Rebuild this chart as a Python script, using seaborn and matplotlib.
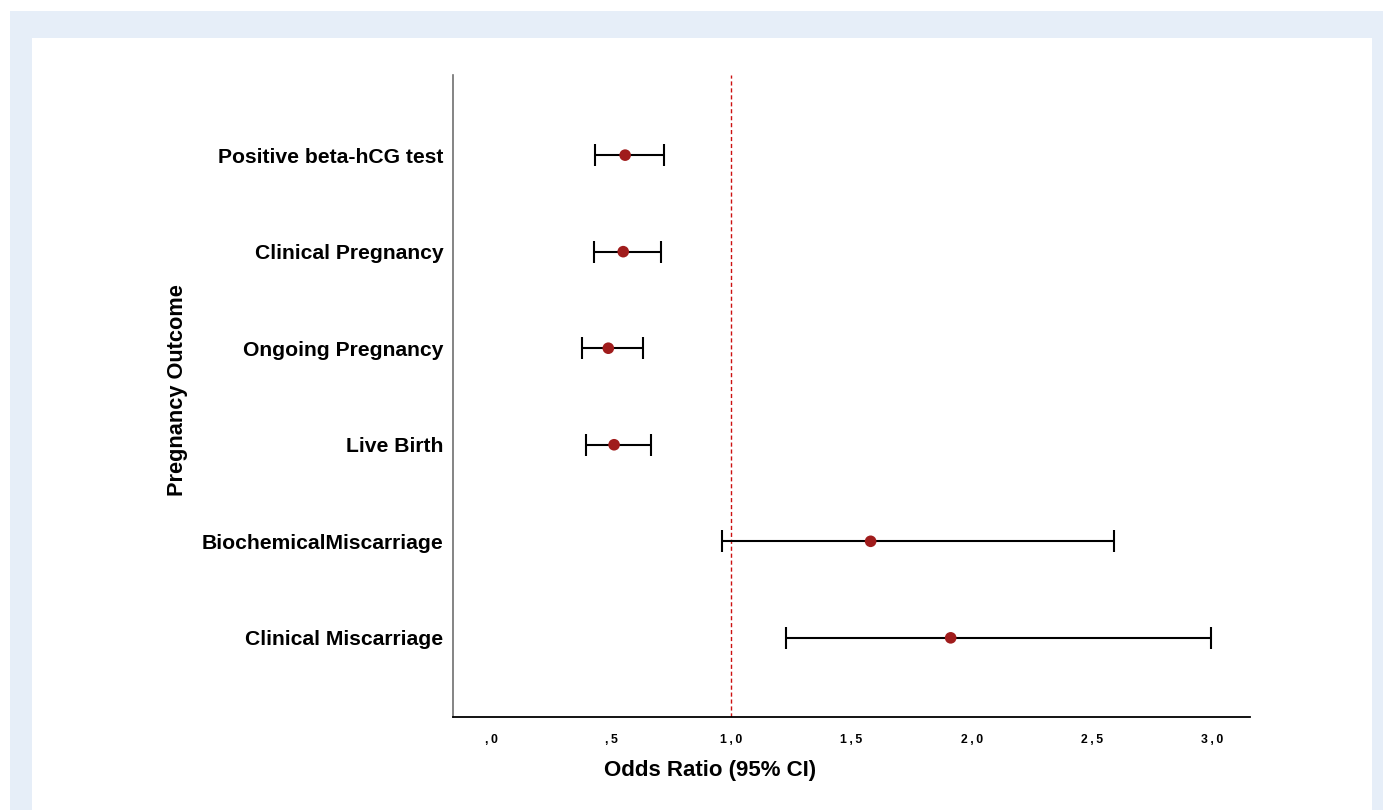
import matplotlib
matplotlib.use("Agg")
import matplotlib.pyplot as plt
import seaborn as sns
import pandas as pd
from matplotlib.patches import Rectangle

outcomes = ["Positive beta-hCG test", "Clinical Pregnancy", "Ongoing Pregnancy",
            "Live Birth", "BiochemicalMiscarriage", "Clinical Miscarriage"]
odds_ratio = [0.558, 0.550, 0.488, 0.512, 1.579, 1.912]
ci_lower = [0.433, 0.429, 0.379, 0.396, 0.962, 1.229]
ci_upper = [0.721, 0.708, 0.633, 0.667, 2.592, 2.996]
x_ticks = [0.0, 0.5, 1.0, 1.5, 2.0, 2.5, 3.0]
x_tick_labels = [",0", ",5", "1,0", "1,5", "2,0", "2,5", "3,0"]

df = pd.DataFrame({"Outcome": outcomes, "OR": odds_ratio, "lo": ci_lower, "hi": ci_upper})

sns.set_style("white")
plt.rcParams["font.family"] = ["Liberation Sans", "DejaVu Sans"]
plt.rcParams["text.color"] = "black"
plt.rcParams["axes.labelcolor"] = "black"
plt.rcParams["xtick.color"] = "black"
plt.rcParams["ytick.color"] = "black"

W, H = 1383, 810
fig = plt.figure(figsize=(W / 100, H / 100), dpi=100, facecolor="white")

# background frame
fig.patches.append(Rectangle((10 / W, 0), (W - 10) / W, (H - 11) / H,
                             transform=fig.transFigure, facecolor="#e6eef8",
                             edgecolor="none", zorder=-10))
fig.patches.append(Rectangle((32 / W, 0), (1372 - 32) / W, (H - 38) / H,
                             transform=fig.transFigure, facecolor="white",
                             edgecolor="none", zorder=-9))

ax = fig.add_axes([453 / W, 1 - 717 / H, (1250 - 453) / W, (717 - 75) / H])
ax.set_facecolor("none")

ax.errorbar(df["OR"], df["Outcome"],
            xerr=[df["OR"] - df["lo"], df["hi"] - df["OR"]],
            fmt="none", ecolor="black", elinewidth=1.5, capsize=8, capthick=1.5, zorder=2)
sns.scatterplot(data=df, x="OR", y="Outcome", ax=ax, color="#a01c1c", s=70,
                edgecolor="none", zorder=3)
ax.axvline(1.0, color="#cc1010", linestyle=(0, (3, 2)), linewidth=1.0, zorder=1)

ax.set_xlim(-0.158, 3.157)
ax.set_ylim(5.82, -0.83)
ax.set_xticks(x_ticks)
spaced = ["\u2009".join(list(t)) for t in x_tick_labels]
ax.set_xticklabels(spaced, fontsize=8.8, fontweight="bold")
for lab in ax.get_yticklabels():
    lab.set_fontsize(15.2)
    lab.set_fontweight("bold")
ax.tick_params(axis="both", length=0)
ax.tick_params(axis="x", pad=12)
ax.tick_params(axis="y", pad=7)

ax.set_xlabel("Odds Ratio (95% CI)", fontsize=16, fontweight="bold")
ax.xaxis.set_label_coords((710 - 453) / 797, (717 - 760) / 642)
ax.set_ylabel("Pregnancy Outcome", fontsize=15.7, fontweight="bold")
ax.yaxis.set_label_coords((188 - 453) / 797, (717 - 390) / 642)

for s in ["top", "right"]:
    ax.spines[s].set_visible(False)
ax.spines["left"].set_color("#707070")
ax.spines["left"].set_linewidth(1.2)
ax.spines["bottom"].set_color("black")
ax.spines["bottom"].set_linewidth(1.3)

fig.savefig("out.png", dpi=100, facecolor="white")
